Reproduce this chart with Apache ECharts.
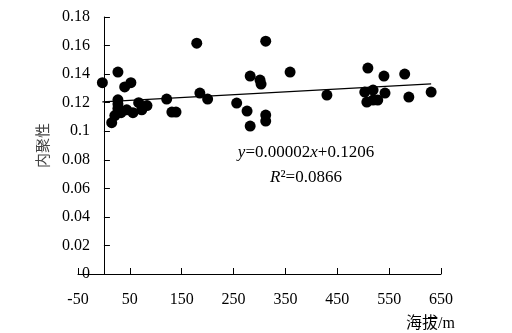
<!DOCTYPE html>
<html>
<head>
<meta charset="utf-8">
<script src="https://cdn.jsdelivr.net/npm/echarts@6/dist/echarts.min.js"></script>
<style>
	html, body { margin: 0; padding: 0; background: #fff; }
	#chart { width: 512px; height: 333px; }
</style>
</head>
<body>
<div id="chart"></div>
<script>
// altitude (m) and cohesion values
var altitude = [-3, 27, 40, 52, 27, 27, 15, 21, 27, 33, 44, 56, 67, 73, 83,
	121, 131, 139, 179, 185, 200, 256, 276, 282, 282, 301, 303, 312, 312, 312,
	359, 430, 509, 503, 519, 507, 519, 528, 540, 542, 580, 588, 631];
var cohesion = [0.134, 0.1414, 0.131, 0.134, 0.122, 0.119, 0.106, 0.111, 0.116, 0.113, 0.115, 0.113, 0.120, 0.115, 0.118,
	0.1225, 0.1134, 0.1134, 0.1617, 0.1267, 0.1225, 0.1197, 0.1141, 0.1036, 0.1386, 0.1358, 0.133, 0.1631, 0.1113, 0.1071,
	0.1414, 0.1253, 0.1442, 0.1274, 0.1288, 0.1204, 0.1218, 0.1218, 0.1386, 0.1267, 0.140, 0.1239, 0.1274];
var slope = 0.00002, intercept = 0.1206;
var xTicks = { min: -50, max: 650, step: 100 };
var yTicks = { min: 0, max: 0.18, step: 0.02 };

var serif = "'Liberation Serif', 'Times New Roman', 'Noto Sans CJK SC', serif";

var points = altitude.map(function (a, i) { return [a, cohesion[i]]; });
var xLo = Math.min.apply(null, altitude), xHi = Math.max.apply(null, altitude);
var trend = [[xLo, slope * xLo + intercept], [xHi, slope * xHi + intercept]];

var chart = echarts.init(document.getElementById('chart'));
chart.setOption({
	animation: false,
	backgroundColor: '#fff',
	grid: { left: 78, right: 71, top: 17, bottom: 59, containLabel: false },
	xAxis: {
		type: 'value',
		min: xTicks.min,
		max: xTicks.max,
		interval: xTicks.step,
		name: '海拔/m',
		nameLocation: 'end',
		nameGap: 14,
		nameTextStyle: { fontFamily: serif, fontSize: 16, color: '#000', align: 'right', verticalAlign: 'top', padding: [42, 0, 0, 0] },
		axisLine: { onZero: false, lineStyle: { color: '#000', width: 1 } },
		axisTick: { inside: true, length: 6, lineStyle: { color: '#000' } },
		axisLabel: { fontFamily: serif, fontSize: 16, color: '#000', margin: 18 },
		splitLine: { show: false }
	},
	yAxis: {
		type: 'value',
		min: yTicks.min,
		max: yTicks.max,
		interval: yTicks.step,
		name: '内聚性',
		nameLocation: 'middle',
		nameGap: 22,
		nameTextStyle: { fontFamily: serif, fontSize: 15, color: '#444' },
		axisLine: { onZero: true, lineStyle: { color: '#000', width: 1 } },
		axisTick: { inside: true, length: 6, lineStyle: { color: '#000' } },
		axisLabel: { fontFamily: serif, fontSize: 16, color: '#000', margin: -12 },
		splitLine: { show: false }
	},
	series: [
		{
			type: 'scatter',
			data: points,
			symbolSize: 11,
			itemStyle: { color: '#000', opacity: 1 }
		},
		{
			type: 'line',
			data: trend,
			symbol: 'none',
			lineStyle: { color: '#000', width: 1.3 },
			z: 3
		}
	],
	graphic: [
		{
			type: 'text',
			x: 306,
			y: 153,
			style: {
				text: '{i|y}=0.00002{i|x}+0.1206',
				font: '17px ' + serif,
				fill: '#000',
				align: 'center',
				verticalAlign: 'middle',
				rich: { i: { fontStyle: 'italic', fontFamily: serif, fontSize: 17 } }
			}
		},
		{
			type: 'text',
			x: 306,
			y: 178,
			style: {
				text: '{i|R}²=0.0866',
				font: '17px ' + serif,
				fill: '#000',
				align: 'center',
				verticalAlign: 'middle',
				rich: { i: { fontStyle: 'italic', fontFamily: serif, fontSize: 17 } }
			}
		}
	]
});
</script>
</body>
</html>
